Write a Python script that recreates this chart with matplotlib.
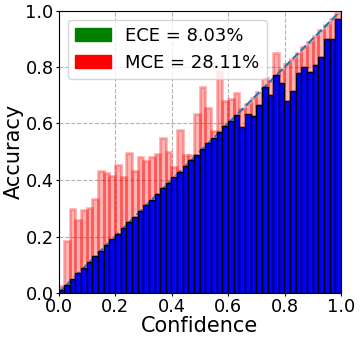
# Reliability diagram (50 bins)

import matplotlib
matplotlib.use("Agg")
import matplotlib.pyplot as plt
import matplotlib.patches as mpatches
import numpy as np

#%% data

n_bins = 50

# average confidence per bin
conf = [0.01, 0.03, 0.05, 0.07, 0.09, 0.11, 0.13, 0.15, 0.17, 0.19,
        0.21, 0.23, 0.25, 0.27, 0.29, 0.31, 0.33, 0.35, 0.37, 0.39,
        0.41, 0.43, 0.45, 0.47, 0.49, 0.51, 0.53, 0.55, 0.57, 0.59,
        0.61, 0.63, 0.65, 0.67, 0.69, 0.71, 0.73, 0.75, 0.77, 0.79,
        0.81, 0.83, 0.85, 0.87, 0.89, 0.91, 0.93, 0.95, 0.97, 0.99]

# accuracy per bin
acc = [0.025, 0.184, 0.297, 0.258, 0.294, 0.302, 0.332, 0.431, 0.425, 0.415,
       0.453, 0.410, 0.497, 0.433, 0.480, 0.467, 0.480, 0.492, 0.550, 0.500,
       0.447, 0.577, 0.488, 0.488, 0.634, 0.730, 0.655, 0.575, 0.785, 0.680,
       0.685, 0.709, 0.586, 0.633, 0.628, 0.665, 0.762, 0.700, 0.850, 0.742,
       0.680, 0.716, 0.777, 0.800, 0.783, 0.807, 0.834, 0.900, 0.900, 0.970]

ece = 8.03
mce = 28.11

#%% plot

conf = np.array(conf)
acc = np.array(acc)
low = np.minimum(acc, conf)
high = np.maximum(acc, conf)

bin_size = 1 / n_bins
positions = np.arange(bin_size / 2, 1, bin_size)

fig = plt.figure(figsize=(3.6, 3.41), dpi=100)
ax = fig.add_axes([58.5 / 360, 48 / 341, 282.5 / 360, 282.5 / 341])

ax.bar(positions, high - low, bottom=low, width=bin_size, color="red",
       edgecolor="red", alpha=0.3, linewidth=2, zorder=2)
ax.bar(positions, low, width=bin_size, color="blue", edgecolor="black",
       linewidth=1, zorder=3)
ax.plot([0, 1], [0, 1], linestyle="--", color="C0", zorder=2.5)

ax.set_xlim(0, 1)
ax.set_ylim(0, 1)
ax.grid(color="gray", linestyle="dashed", linewidth=0.8, alpha=0.6)

ece_patch = mpatches.Patch(color="green", label="ECE = %.2f%%" % ece)
mce_patch = mpatches.Patch(color="red", label="MCE = %.2f%%" % mce)
ax.legend(handles=[ece_patch, mce_patch], loc="upper left", fontsize=13)

ax.tick_params(labelsize=12.8, length=2, pad=1.5)
ax.set_xlabel("Confidence", fontsize=15, labelpad=0)
ax.set_ylabel("Accuracy", fontsize=15, labelpad=1)

plt.savefig("out.png")
